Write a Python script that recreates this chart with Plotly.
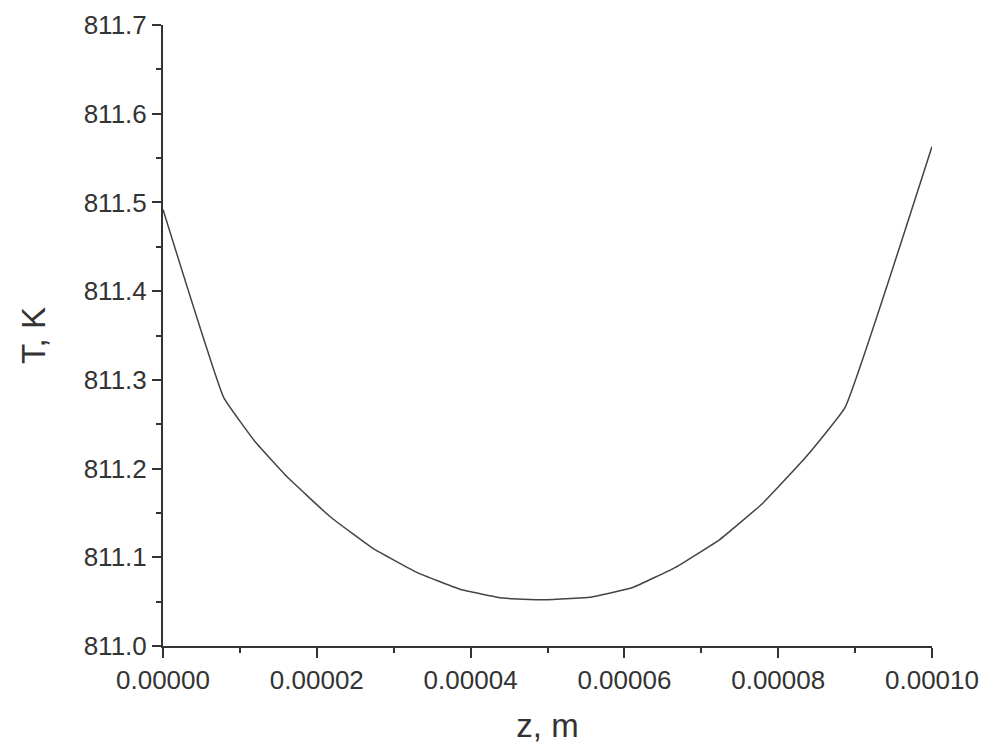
import plotly.graph_objects as go

# Data
z_m = [0.0, 0.79e-5, 1.21e-5, 1.61e-5, 2.17e-5, 2.73e-5, 3.30e-5, 3.86e-5, 4.42e-5,
       4.93e-5, 5.55e-5, 6.11e-5, 6.67e-5, 7.24e-5, 7.80e-5, 8.36e-5, 8.87e-5, 10.0e-5]
T_K = [811.492, 811.280, 811.229, 811.191, 811.146, 811.110, 811.083, 811.064, 811.054,
       811.052, 811.055, 811.066, 811.089, 811.120, 811.161, 811.213, 811.269, 811.563]

x_ticks = [0.0, 0.00002, 0.00004, 0.00006, 0.00008, 0.00010]
x_labels = ["0.00000", "0.00002", "0.00004", "0.00006", "0.00008", "0.00010"]
y_ticks = [811.0, 811.1, 811.2, 811.3, 811.4, 811.5, 811.6, 811.7]
y_labels = ["811.0", "811.1", "811.2", "811.3", "811.4", "811.5", "811.6", "811.7"]

FONT = "Liberation Sans, Arial, sans-serif"
AX = "#333333"
TXT = "#333333"

fig = go.Figure()
fig.add_trace(go.Scatter(x=z_m, y=T_K, mode="lines",
                         line=dict(color="#444444", width=1.5, shape="spline", smoothing=0.3),
                         showlegend=False))

fig.update_layout(
    width=1000, height=752,
    paper_bgcolor="white", plot_bgcolor="white",
    margin=dict(l=155, r=76, t=17, b=114),
    font=dict(family=FONT, color=TXT, size=26),
)
fig.update_xaxes(
    range=[0, 0.0001], tickvals=x_ticks, ticktext=x_labels, automargin=False,
    showgrid=False, zeroline=False, showline=True, linecolor=AX, linewidth=2,
    ticks="outside", ticklen=10, tickwidth=2, tickcolor=AX,
    tickfont=dict(size=26, color=TXT),
    minor=dict(dtick=0.00001, ticks="outside", ticklen=5, tickwidth=2, tickcolor=AX, showgrid=False),
    title=dict(text="z, m", font=dict(size=33, color=TXT), standoff=20),
)
fig.update_yaxes(
    range=[811.0, 811.7], tickvals=y_ticks, ticktext=y_labels, automargin=False,
    showgrid=False, zeroline=False, showline=True, linecolor=AX, linewidth=2,
    ticks="outside", ticklen=9, tickwidth=2, tickcolor=AX,
    tickfont=dict(size=26, color=TXT),
    minor=dict(dtick=0.05, ticks="outside", ticklen=5, tickwidth=2, tickcolor=AX, showgrid=False),
    title=dict(text="T, K", font=dict(size=33, color=TXT), standoff=28),
)

fig.write_html("out.html")
